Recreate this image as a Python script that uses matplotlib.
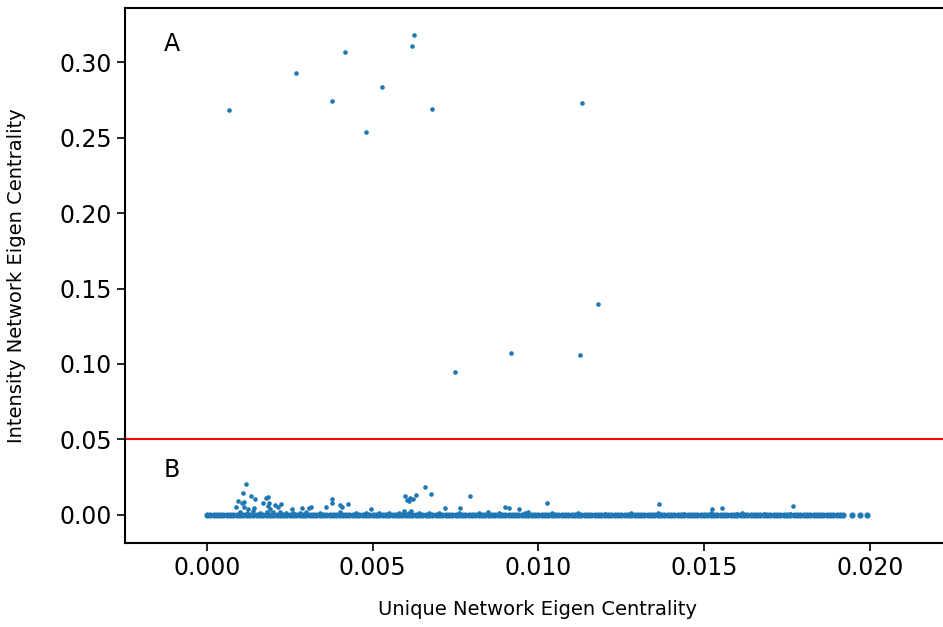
import matplotlib
matplotlib.use("Agg")
import matplotlib.pyplot as plt

# Upper cluster (region A)
top_x = [0.00066, 0.00268, 0.00377, 0.00416, 0.00480, 0.00528, 0.00618, 0.00624,
         0.00679, 0.01131, 0.01179, 0.00917, 0.01125, 0.00748]
top_y = [0.2680, 0.2927, 0.2740, 0.3066, 0.2536, 0.2834, 0.3106, 0.3179,
         0.2689, 0.2728, 0.1397, 0.1073, 0.1060, 0.0947]

# Lower outliers (region B, above the dense band)
low_x = [0.00117, 0.00110, 0.00133, 0.00145, 0.00093, 0.00113, 0.00105, 0.00087,
         0.00183, 0.00177, 0.00170, 0.00187, 0.00183, 0.00205, 0.00223, 0.00376,
         0.00376, 0.00401, 0.00113, 0.00123, 0.00143, 0.00190, 0.00213, 0.00256,
         0.00288, 0.00314, 0.00358, 0.00426, 0.00409, 0.00494, 0.00599, 0.00609,
         0.00622, 0.00630, 0.00659, 0.00676, 0.00793, 0.00718, 0.00765, 0.00594,
         0.00617, 0.00849, 0.00899, 0.00912, 0.00942, 0.01027, 0.00969, 0.01364,
         0.01523, 0.01553, 0.01613, 0.01767, 0.00308, 0.00612, 0.00605]
low_y = [0.0205, 0.0148, 0.0126, 0.0104, 0.0095, 0.0088, 0.0078, 0.0051,
         0.0121, 0.0110, 0.0081, 0.0081, 0.0060, 0.0066, 0.0073, 0.0104,
         0.0081, 0.0066, 0.0051, 0.0038, 0.0044, 0.0038, 0.0051, 0.0038,
         0.0044, 0.0051, 0.0051, 0.0071, 0.0055, 0.0038, 0.0126, 0.0095,
         0.0104, 0.0132, 0.0183, 0.0139, 0.0126, 0.0044, 0.0049, 0.0028,
         0.0028, 0.0022, 0.0051, 0.0044, 0.0042, 0.0081, 0.0018, 0.0073,
         0.0042, 0.0046, 0.0015, 0.0060, 0.0049, 0.0110, 0.0100]

# Dense band of near-zero values (x in units of 1e-4)
band_x_e4 = [0, 1, 2, 3, 4, 5, 6, 7, 8, 9, 10, 11, 12, 13, 14, 15, 16, 17, 18, 19,
             20, 21, 22, 23, 24, 25, 26, 27, 28, 29, 30, 31, 32, 33, 34, 35, 36, 37,
             38, 39, 40, 41, 42, 43, 44, 45, 46, 47, 48, 49, 50, 51, 52, 53, 54, 55,
             56, 57, 58, 59, 60, 61, 62, 63, 64, 65, 66, 67, 68, 69, 70, 71, 72, 73,
             74, 75, 76, 77, 78, 79, 80, 81, 82, 83, 84, 85, 86, 87, 88, 89, 90, 91,
             92, 93, 94, 95, 96, 97, 98, 99, 100, 101, 102, 103, 104, 105, 106, 107,
             108, 109, 110, 111, 112, 113, 114, 115, 116, 117, 118, 119, 120, 121,
             122, 123, 124, 125, 126, 127, 128, 129, 130, 131, 132, 133, 134, 135,
             136, 137, 138, 139, 140, 141, 142, 143, 144, 145, 146, 147, 148, 149,
             150, 151, 152, 153, 154, 155, 156, 157, 158, 159, 160, 161, 162, 163,
             164, 165, 166, 167, 168, 169, 170, 171, 172, 173, 174, 175, 176, 177,
             178, 179, 180, 181, 182, 183, 184, 185, 186, 187, 188, 189, 190, 191,
             192, 194.7, 197, 199]
# Slight bumps on top of the band
bump_x = [0.0010, 0.0014, 0.0018, 0.0022, 0.0026, 0.0030, 0.0034, 0.0040, 0.0045,
          0.0052, 0.0058, 0.0064, 0.0070, 0.0076, 0.0082, 0.0088, 0.0096, 0.0104,
          0.0112, 0.0120, 0.0128, 0.0136, 0.0144, 0.0152, 0.0160, 0.0168, 0.0176,
          0.0012, 0.0016, 0.0020, 0.0024, 0.0028, 0.0048, 0.0055, 0.0061, 0.0067]
bump_y = [0.0020, 0.0025, 0.0022, 0.0018, 0.0015, 0.0020, 0.0016, 0.0018, 0.0014,
          0.0012, 0.0015, 0.0016, 0.0012, 0.0010, 0.0012, 0.0013, 0.0010, 0.0011,
          0.0010, 0.0009, 0.0010, 0.0010, 0.0009, 0.0010, 0.0009, 0.0008, 0.0009,
          0.0016, 0.0014, 0.0017, 0.0013, 0.0012, 0.0010, 0.0011, 0.0012, 0.0010]

xticks = [0.000, 0.005, 0.010, 0.015, 0.020]
yticks = [0.00, 0.05, 0.10, 0.15, 0.20, 0.25, 0.30]
threshold = 0.05

color = "#1f77b4"
fig = plt.figure(figsize=(9.43, 6.27), dpi=100)
ax = fig.add_axes([0.1326, 0.134, 0.8742, 0.8533])

band_x = [v * 1e-4 for v in band_x_e4]
band_y = [0.0] * len(band_x)
ax.scatter(band_x, band_y, s=20, color=color, linewidths=0)
ax.scatter(bump_x, bump_y, s=11, color=color, linewidths=0)
ax.scatter(low_x, low_y, s=11, color=color, linewidths=0)
ax.scatter(top_x, top_y, s=11, color=color, linewidths=0)

ax.axhline(threshold, color="red", linewidth=1.5)

ax.text(-0.0013, 0.307, "A", fontsize=17)
ax.text(-0.0013, 0.025, "B", fontsize=17)

ax.set_xlim(-0.00247, 0.0224)
ax.set_ylim(-0.01854, 0.3358)
ax.set_xticks(xticks)
ax.set_xticklabels([f"{v:.3f}" for v in xticks])
ax.set_yticks(yticks)
ax.set_yticklabels([f"{v:.2f}" for v in yticks])
ax.tick_params(labelsize=17, length=6, width=1.2)
for sp in ax.spines.values():
    sp.set_linewidth(1.5)

ax.set_xlabel("Unique Network Eigen Centrality", fontsize=14, labelpad=14)
ax.set_ylabel("Intensity Network Eigen Centrality", fontsize=14, labelpad=24)

fig.savefig("out.png", dpi=100)
